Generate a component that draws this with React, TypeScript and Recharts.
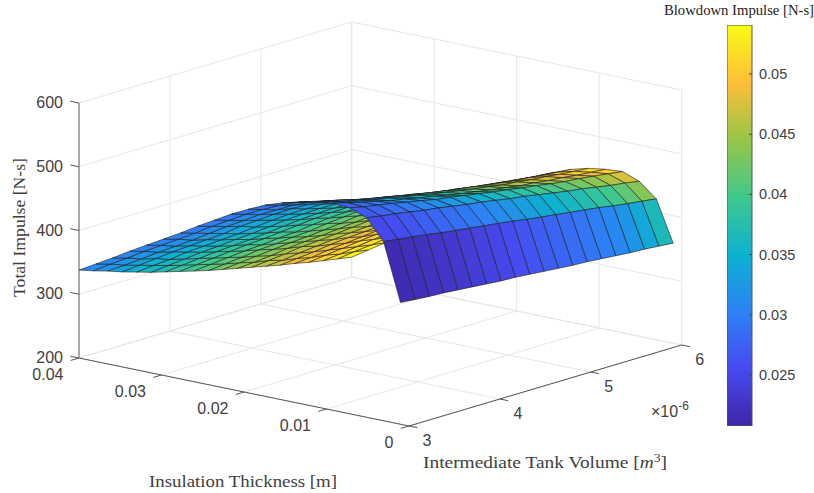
import { Bar, BarChart, Scatter, ScatterChart, XAxis, YAxis } from "recharts";

// surface grid, rows run from thick insulation to thin
const thicknessNodes = [
  0.04, 0.03795, 0.0359, 0.03385, 0.03179, 0.02974, 0.02769, 0.02564, 0.02359, 0.02154, 0.01949, 0.01744, 0.01538,
  0.01333, 0.01128, 0.00923, 0.00718, 0.00513, 0.00308, 0.00103,
];
const volumeNodes = [
  3e-6, 3.158e-6, 3.316e-6, 3.474e-6, 3.632e-6, 3.789e-6, 3.947e-6, 4.105e-6, 4.263e-6, 4.421e-6, 4.579e-6, 4.737e-6,
  4.895e-6, 5.053e-6, 5.211e-6, 5.368e-6, 5.526e-6, 5.684e-6, 5.842e-6, 6e-6,
];

const totalImpulse = [
  [338, 330, 323, 315, 308, 301, 295, 289, 283, 277, 272, 267, 262, 257, 252, 248, 243, 239, 235, 231],
  [353, 346, 338, 331, 324, 317, 311, 305, 299, 293, 288, 282, 278, 272, 268, 263, 260, 255, 252, 248],
  [368, 361, 353, 347, 339, 333, 327, 321, 315, 309, 304, 298, 294, 289, 284, 280, 276, 272, 268, 265],
  [384, 377, 369, 363, 356, 349, 343, 337, 331, 326, 320, 315, 311, 305, 301, 296, 293, 289, 285, 282],
  [399, 392, 384, 378, 371, 364, 358, 353, 346, 341, 336, 331, 326, 321, 317, 312, 309, 305, 301, 298],
  [414, 407, 399, 393, 386, 380, 373, 368, 362, 357, 351, 346, 342, 337, 332, 328, 325, 321, 317, 314],
  [429, 422, 415, 408, 401, 395, 389, 384, 377, 372, 367, 362, 358, 352, 348, 344, 341, 336, 333, 330],
  [445, 438, 431, 425, 417, 411, 405, 400, 394, 389, 383, 378, 374, 369, 365, 361, 358, 353, 350, 347],
  [460, 453, 446, 440, 433, 427, 421, 416, 410, 405, 400, 394, 390, 385, 381, 377, 374, 370, 367, 364],
  [475, 468, 461, 455, 448, 442, 436, 431, 425, 421, 416, 411, 407, 402, 398, 394, 391, 387, 384, 381],
  [488, 481, 474, 469, 462, 456, 450, 445, 440, 435, 430, 425, 422, 417, 413, 409, 406, 403, 400, 397],
  [500, 493, 487, 481, 475, 469, 463, 459, 453, 448, 444, 439, 435, 431, 427, 424, 421, 417, 415, 412],
  [509, 503, 497, 492, 485, 480, 475, 471, 466, 462, 457, 453, 450, 446, 443, 440, 437, 434, 432, 430],
  [516, 510, 504, 499, 493, 488, 483, 479, 474, 470, 466, 462, 459, 455, 452, 449, 447, 444, 442, 440],
  [521, 515, 509, 504, 498, 494, 489, 485, 480, 476, 472, 468, 465, 461, 459, 456, 454, 451, 449, 447],
  [525, 519, 513, 508, 502, 498, 493, 489, 484, 480, 476, 472, 469, 465, 463, 460, 458, 455, 453, 451],
  [523, 518, 514, 510, 505, 501, 496, 493, 489, 485, 481, 478, 474, 471, 467, 464, 462, 459, 456, 453],
  [513, 509, 506, 502, 498, 495, 491, 487, 484, 480, 476, 473, 469, 465, 461, 458, 454, 450, 447, 443],
  [481, 478, 475, 472, 468, 465, 462, 459, 456, 453, 449, 446, 443, 440, 437, 434, 430, 427, 424, 421],
  [391, 389, 387, 386, 384, 382, 380, 378, 377, 375, 373, 371, 369, 368, 366, 364, 362, 361, 359, 357],
];

// one value per face of the surface
const blowdownImpulse = [
  [.0310, .0322, .0335, .0348, .0360, .0372, .0385, .0398, .0410, .0425, .0438, .0450, .0462, .0475, .0487, .0498, .0508, .0522, .0536],
  [.0310, .0323, .0336, .0349, .0361, .0373, .0386, .0399, .0411, .0425, .0438, .0451, .0463, .0476, .0488, .0499, .0509, .0522, .0535],
  [.0308, .0321, .0334, .0347, .0360, .0372, .0385, .0398, .0411, .0424, .0437, .0450, .0463, .0476, .0488, .0499, .0510, .0521, .0532],
  [.0306, .0319, .0332, .0345, .0358, .0371, .0384, .0397, .0410, .0423, .0436, .0449, .0462, .0475, .0487, .0498, .0508, .0518, .0528],
  [.0304, .0317, .0330, .0343, .0356, .0369, .0382, .0395, .0408, .0421, .0434, .0447, .0460, .0473, .0485, .0496, .0506, .0516, .0526],
  [.0302, .0315, .0328, .0341, .0354, .0367, .0380, .0393, .0406, .0419, .0432, .0445, .0458, .0471, .0483, .0494, .0505, .0515, .0525],
  [.0300, .0313, .0326, .0339, .0352, .0365, .0378, .0391, .0404, .0417, .0430, .0443, .0456, .0469, .0481, .0493, .0504, .0514, .0524],
  [.0298, .0311, .0324, .0337, .0350, .0363, .0376, .0389, .0402, .0415, .0428, .0441, .0454, .0467, .0480, .0492, .0503, .0513, .0523],
  [.0296, .0309, .0322, .0335, .0348, .0361, .0374, .0387, .0400, .0413, .0426, .0439, .0452, .0465, .0478, .0490, .0502, .0512, .0522],
  [.0295, .0308, .0321, .0334, .0347, .0360, .0373, .0386, .0399, .0412, .0425, .0438, .0451, .0464, .0477, .0489, .0501, .0512, .0522],
  [.0293, .0306, .0319, .0332, .0345, .0358, .0371, .0384, .0397, .0410, .0423, .0436, .0449, .0462, .0475, .0488, .0500, .0511, .0522],
  [.0291, .0304, .0317, .0330, .0343, .0356, .0369, .0382, .0395, .0408, .0421, .0434, .0447, .0460, .0473, .0486, .0498, .0510, .0521],
  [.0290, .0303, .0316, .0329, .0342, .0355, .0368, .0381, .0394, .0407, .0420, .0433, .0446, .0459, .0472, .0485, .0497, .0509, .0520],
  [.0288, .0300, .0312, .0325, .0338, .0351, .0364, .0377, .0390, .0403, .0416, .0429, .0442, .0455, .0468, .0481, .0493, .0505, .0518],
  [.0285, .0298, .0311, .0324, .0337, .0349, .0361, .0373, .0385, .0398, .0411, .0424, .0437, .0450, .0463, .0476, .0489, .0503, .0517],
  [.0278, .0289, .0300, .0311, .0322, .0334, .0346, .0358, .0371, .0384, .0397, .0410, .0423, .0436, .0449, .0461, .0473, .0487, .0505],
  [.0268, .0277, .0286, .0295, .0305, .0315, .0326, .0337, .0348, .0359, .0370, .0381, .0392, .0403, .0414, .0426, .0438, .0455, .0475],
  [.0252, .0258, .0265, .0272, .0279, .0287, .0295, .0303, .0312, .0321, .0331, .0341, .0351, .0361, .0372, .0384, .0397, .0415, .0435],
  [.0215, .0219, .0223, .0228, .0233, .0238, .0244, .0250, .0257, .0264, .0271, .0278, .0285, .0292, .0300, .0309, .0322, .0340, .0365],
];

const thicknessTicks = [0.04, 0.03, 0.02, 0.01, 0];
const volumeTicks = [3e-6, 4e-6, 5e-6, 6e-6];
const impulseTicks = [200, 300, 400, 500, 600];
const colorTicks = [0.025, 0.03, 0.035, 0.04, 0.045, 0.05];
const colorRange = [0.02076, 0.05407];

const parula = [
  [62, 38, 168],
  [71, 74, 240],
  [44, 130, 246],
  [12, 178, 208],
  [64, 200, 140],
  [152, 198, 72],
  [254, 190, 56],
  [249, 251, 21],
];

const gridColor = "#e6e6e6";
const axisColor = "#555555";
const edgeColor = "#1c1c1c";
const tickFont = "Liberation Sans, Arial, sans-serif";
const titleFont = "Liberation Serif, Times New Roman, serif";

// MATLAB style orthographic view, data space to picture space
function project(thickness: number, volume: number, impulse: number) {
  const u = (0.04 - thickness) / 0.04;
  const w = (volume - 3e-6) / 3e-6;
  return {
    x: 79 + 330 * u + 272.7 * w,
    y: 358 + 68 * u - 81 * w - (impulse - 200) * 0.6375,
  };
}

function colorOf(value: number) {
  const t = Math.min(1, Math.max(0, (value - colorRange[0]) / (colorRange[1] - colorRange[0]))) * (parula.length - 1);
  const k = Math.min(parula.length - 2, Math.floor(t));
  const c = parula[k].map((v, n) => Math.round(v + (parula[k + 1][n] - v) * (t - k)));
  return `rgb(${c[0]},${c[1]},${c[2]})`;
}

const NoMark = () => <g />;

function Segment(points: { x: number; y: number }[], stroke: string, width: number, key: string) {
  return (
    <Scatter
      key={key}
      data={points}
      line={{ stroke, strokeWidth: width, fill: "none" }}
      lineJointType="linear"
      shape={NoMark}
      isAnimationActive={false}
    />
  );
}

function gridLines() {
  const out = [];
  for (const t of thicknessTicks) {
    out.push(Segment([project(t, 3e-6, 200), project(t, 6e-6, 200), project(t, 6e-6, 600)], gridColor, 1, `gt${t}`));
  }
  for (const v of volumeTicks) {
    out.push(Segment([project(0, v, 200), project(0.04, v, 200), project(0.04, v, 600)], gridColor, 1, `gv${v}`));
  }
  for (const z of impulseTicks) {
    out.push(Segment([project(0.04, 3e-6, z), project(0.04, 6e-6, z), project(0, 6e-6, z)], gridColor, 1, `gz${z}`));
  }
  return out;
}

function axisLines() {
  const out = [
    Segment([project(0.04, 3e-6, 200), project(0, 3e-6, 200), project(0, 6e-6, 200)], axisColor, 1, "floorAxes"),
    Segment([project(0.04, 3e-6, 200), project(0.04, 3e-6, 600)], "#8a8a8a", 1.4, "impulseAxis"),
  ];
  for (const t of thicknessTicks) {
    out.push(Segment([project(t, 3e-6, 200), project(t, 2.91e-6, 200)], axisColor, 1, `tt${t}`));
  }
  for (const v of volumeTicks) {
    out.push(Segment([project(0, v, 200), project(-0.001, v, 200)], axisColor, 1, `tv${v}`));
  }
  for (const z of impulseTicks) {
    out.push(Segment([project(0.04, 3e-6, z), project(0.04105, 3e-6, z)], axisColor, 1, `tz${z}`));
  }
  return out;
}

// painter's order, far corner of the floor first
function surfaceFaces() {
  const out = [];
  for (let i = 0; i < thicknessNodes.length - 1; i++) {
    for (let j = volumeNodes.length - 2; j >= 0; j--) {
      const face = [
        project(thicknessNodes[i], volumeNodes[j], totalImpulse[i][j]),
        project(thicknessNodes[i], volumeNodes[j + 1], totalImpulse[i][j + 1]),
        project(thicknessNodes[i + 1], volumeNodes[j + 1], totalImpulse[i + 1][j + 1]),
        project(thicknessNodes[i + 1], volumeNodes[j], totalImpulse[i + 1][j]),
      ];
      out.push(
        <Scatter
          key={`f${i}-${j}`}
          data={face}
          line={{ fill: colorOf(blowdownImpulse[i][j]), stroke: edgeColor, strokeWidth: 0.6, strokeLinejoin: "round" }}
          lineJointType="linearClosed"
          shape={NoMark}
          isAnimationActive={false}
        />,
      );
    }
  }
  return out;
}

type LabelPoint = { x: number; y: number; text: string; anchor: string };

function TickText(props: any) {
  const { cx, cy, payload } = props;
  return (
    <text x={cx} y={cy} textAnchor={payload.anchor} dominantBaseline="central" fontFamily={tickFont} fontSize={16} fill="#404040">
      {payload.text}
    </text>
  );
}

const tickLabels: LabelPoint[] = [
  ...thicknessTicks.map((t) => {
    const p = project(t, 3e-6, 200);
    return { x: p.x - 15.5, y: p.y + 16, text: String(t), anchor: "end" };
  }),
  ...volumeTicks.map((v) => {
    const p = project(0, v, 200);
    return { x: p.x + 18, y: p.y + 14, text: String(Math.round(v * 1e6)), anchor: "middle" };
  }),
  ...impulseTicks.map((z) => {
    const p = project(0.04, 3e-6, z);
    return { x: p.x - 16, y: p.y - 0.5, text: String(z), anchor: "end" };
  }),
];

function ColorbarTick(props: any) {
  const { x, y, payload } = props;
  return (
    <g>
      <line x1={x - 3} x2={x} y1={y} y2={y} stroke="#444444" strokeWidth={1} />
      <text x={x + 7} y={y} dominantBaseline="central" fontFamily={tickFont} fontSize={14.5} fill="#404040">
        {payload.value}
      </text>
    </g>
  );
}

const colorbarData = [{ name: "blowdown", range: colorRange }];

export default function App() {
  return (
    <div style={{ position: "absolute", left: 0, top: 0, width: 814, height: 493, background: "#ffffff" }}>
      <div style={{ position: "absolute", left: 0, top: 0 }}>
        <ScatterChart width={814} height={493} margin={{ top: 0, right: 0, bottom: 0, left: 0 }}>
          <XAxis type="number" dataKey="x" domain={[0, 814]} hide />
          <YAxis type="number" dataKey="y" domain={[0, 493]} reversed hide />
          {gridLines()}
          {axisLines()}
          {surfaceFaces()}
          <Scatter data={tickLabels} shape={TickText} isAnimationActive={false} />
          <text x={651} y={417} fontFamily={tickFont} fontSize={16} fill="#404040">
            ×10
            <tspan dy={-7} fontSize={12}>
              -6
            </tspan>
          </text>
          <text x={149} y={487} fontFamily={titleFont} fontSize={17} fill="#404040" textLength={188} lengthAdjust="spacingAndGlyphs">
            Insulation Thickness [m]
          </text>
          <text x={423} y={468} fontFamily={titleFont} fontSize={17} fill="#404040" textLength={244} lengthAdjust="spacingAndGlyphs">
            Intermediate Tank Volume [<tspan fontStyle="italic">m</tspan>
            <tspan dy={-6} fontSize={12}>
              3
            </tspan>
            <tspan dy={6}>]</tspan>
          </text>
          <text
            x={0}
            y={0}
            transform="translate(25 297) rotate(-90)"
            fontFamily={titleFont}
            fontSize={16}
            fill="#404040"
            textLength={139}
            lengthAdjust="spacingAndGlyphs"
          >
            Total Impulse [N-s]
          </text>
          <text x={664} y={15} fontFamily={titleFont} fontSize={14} fill="#222222" textLength={150} lengthAdjust="spacingAndGlyphs">
            Blowdown Impulse [N-s]
          </text>
        </ScatterChart>
      </div>
      <div style={{ position: "absolute", left: 727, top: 0 }}>
        <BarChart width={87} height={493} data={colorbarData} margin={{ top: 25, right: 0, bottom: 67, left: 0 }} barCategoryGap={0}>
          <defs>
            <linearGradient id="parulaBar" x1="0" y1="0" x2="0" y2="1">
              {parula.map((c, k) => (
                <stop key={k} offset={1 - k / (parula.length - 1)} stopColor={`rgb(${c[0]},${c[1]},${c[2]})`} />
              )).reverse()}
            </linearGradient>
          </defs>
          <XAxis dataKey="name" hide />
          <YAxis
            orientation="right"
            width={62}
            domain={colorRange}
            ticks={colorTicks}
            allowDataOverflow
            axisLine={false}
            tickLine={false}
            tickMargin={0}
            tickSize={0}
            tick={ColorbarTick}
          />
          <Bar dataKey="range" fill="url(#parulaBar)" stroke="#555555" isAnimationActive={false} />
        </BarChart>
      </div>
    </div>
  );
}
